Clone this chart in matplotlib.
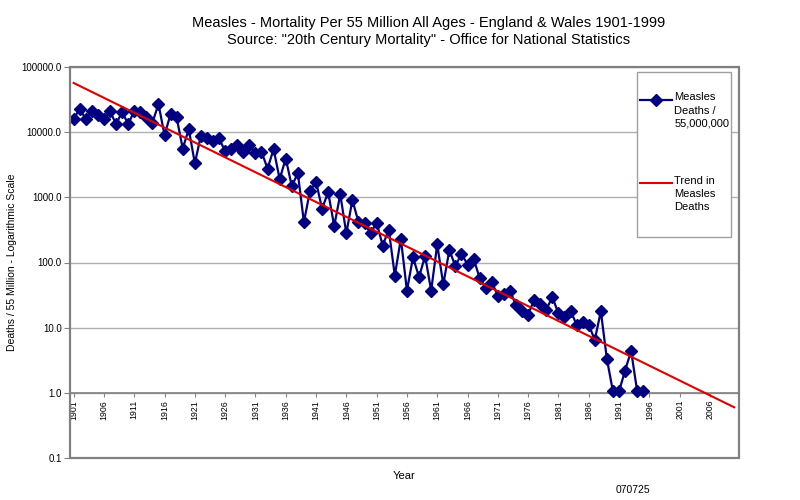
import numpy as np
import matplotlib
matplotlib.use("Agg")
import matplotlib.pyplot as plt
from matplotlib.patches import Rectangle
from matplotlib.lines import Line2D
from matplotlib.ticker import NullLocator

plt.rcParams["font.family"] = ["Liberation Sans", "DejaVu Sans"]

# measles deaths per 55 million (1901-1995)
years = np.arange(1901, 1996)
deaths = [
    15800, 23000, 15800, 21000, 18300, 15800, 21000, 13300, 20500, 13300,   # 1901-1910
    21000, 20500, 16800, 14000, 27000, 9000, 19000, 16800, 5600, 11100,     # 1911-1920
    3330, 8800, 8000, 7400, 8000, 5100, 5500, 6400, 4900, 6300,             # 1921-1930
    4800, 5000, 2760, 5500, 1900, 3940, 1490, 2340, 417, 1250,              # 1931-1940
    1720, 670, 1200, 363, 1110, 280, 910, 420, 400, 280,                    # 1941-1950
    410, 182, 320, 63, 232, 37, 120, 60, 126, 37,                           # 1951-1960
    189, 46, 155, 88, 137, 93, 114, 58, 41, 50,                             # 1961-1970
    31, 33, 37, 22, 17.8, 15.8, 27, 23.4, 19, 29.5,                         # 1971-1980
    16.5, 14.7, 18.2, 11.1, 12.3, 11.1, 6.5, 17.8, 3.3, 1.05,               # 1981-1990
    1.05, 2.2, 4.4, 1.05, 1.05,                                             # 1991-1995
]
trend_years = np.arange(1901, 2011)   # excel trendline, forecast to 2010
xtick_years = np.arange(1901, 2007, 5)
ytick_vals = [0.1, 1, 10, 100, 1000, 10000, 100000]

# exponential trend (same as excel: fit on log values)
k, c = np.polyfit(years, np.log10(deaths), 1)
trend = 10 ** (c + k * trend_years)

fig = plt.figure(figsize=(8, 5), dpi=100)
ax = fig.add_axes([70 / 800, 42 / 500, 669 / 800, 391 / 500])

ax.set_yscale("log")
ax.set_ylim(0.1, 100000)
ax.set_xlim(1900.4, 2010.8)

# plot-area frame; category axis crosses at 1.0 (do this before ticks, it resets them)
for s in ("left", "right", "top"):
    ax.spines[s].set_visible(False)
ax.spines["bottom"].set_position(("data", 1.0))
ax.spines["bottom"].set_color("#808080")
ax.spines["bottom"].set_linewidth(1.2)
ax.add_patch(Rectangle((0, 0), 1, 1, transform=ax.transAxes, fill=False,
                       ec="#808080", lw=1.6, clip_on=False, zorder=5))

ax.set_yticks(ytick_vals)
ax.set_yticklabels([f"{v:.1f}" for v in ytick_vals])
ax.yaxis.set_minor_locator(NullLocator())
ax.set_xticks(xtick_years)
ax.set_xticklabels([str(y) for y in xtick_years])
ax.tick_params(axis="x", length=3, pad=2, color="#808080", labelsize=6.3, labelrotation=90)
ax.tick_params(axis="y", length=4, pad=2, color="#808080", labelsize=7)
ax.grid(axis="y", color="#b0b0b0", lw=1)
ax.set_axisbelow(True)

ax.plot(years, deaths, "-D", color="#000080", lw=1.6, ms=6.5, zorder=3)
ax.plot(trend_years, trend, "-", color="#e00000", lw=1.5, zorder=4)

# legend (drawn by hand, excel style)
ax.add_patch(Rectangle((0.8475, 0.565), 0.1405, 0.422, transform=ax.transAxes,
                       fc="white", ec="#a0a0a0", lw=1, zorder=6))
ax.add_line(Line2D([0.852, 0.876, 0.900], [0.9156] * 3, transform=ax.transAxes,
                   color="#000080", lw=1.6, marker="D", ms=6, markevery=[1], zorder=7))
ax.text(0.903, 0.935, "Measles\nDeaths /\n55,000,000", transform=ax.transAxes,
        fontsize=8, va="top", ha="left", linespacing=1.4, zorder=7)
ax.add_line(Line2D([0.852, 0.900], [0.703, 0.703], transform=ax.transAxes,
                   color="#e00000", lw=1.5, zorder=7))
ax.text(0.903, 0.722, "Trend in\nMeasles\nDeaths", transform=ax.transAxes,
        fontsize=8, va="top", ha="left", linespacing=1.4, zorder=7)

fig.text(0.536, 0.955, "Measles - Mortality Per 55 Million All Ages - England & Wales 1901-1999",
         ha="center", va="center", fontsize=10.5)
fig.text(0.536, 0.92, 'Source: "20th Century Mortality" - Office for National Statistics',
         ha="center", va="center", fontsize=10.5)
fig.text(12 / 800, 0.475, "Deaths / 55 Million - Logarithmic Scale", rotation=90,
         ha="center", va="center", fontsize=7.5)
fig.text(404 / 800, 1 - 476 / 500, "Year", ha="center", va="center", fontsize=8)
fig.text(633 / 800, 1 - 490 / 500, "070725", ha="center", va="center", fontsize=7.5)

fig.savefig("out.png", dpi=100)
